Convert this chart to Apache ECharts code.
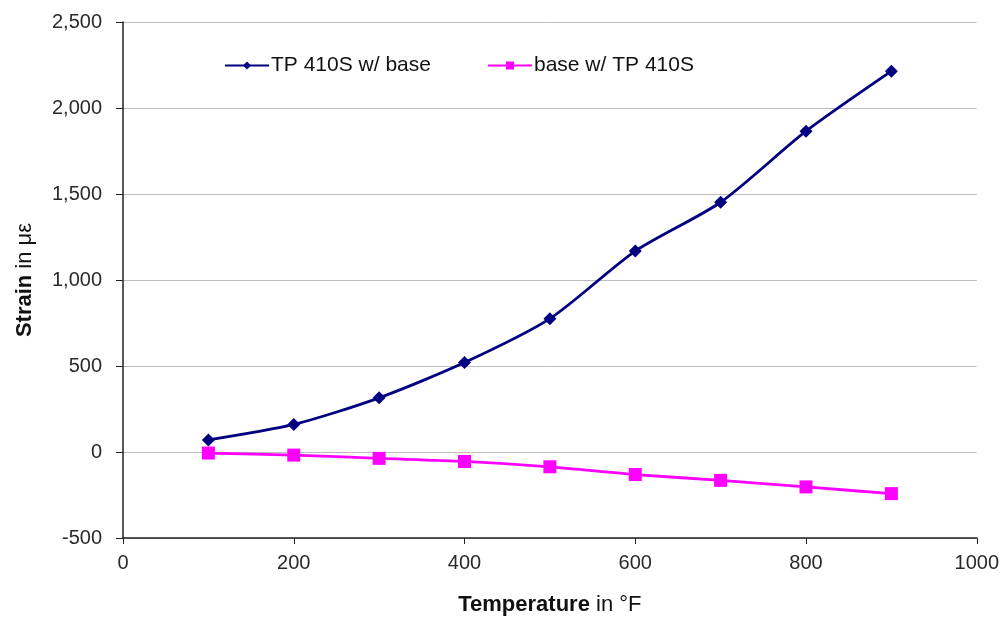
<!DOCTYPE html>
<html>
<head>
<meta charset="utf-8">
<script src="https://cdn.jsdelivr.net/npm/echarts@6/dist/echarts.min.js"></script>
<style>
  html, body { margin: 0; padding: 0; background: #fff; }
  #chart { width: 1002px; height: 625px; }
</style>
</head>
<body>
<div id="chart"></div>
<script>
// Temperature (°F) at each measurement
const temperatures = [100, 200, 300, 400, 500, 600, 700, 800, 900];
// Strain readings (με)
const tpWithBase = [70, 160, 315, 520, 775, 1168, 1452, 1865, 2214];
const baseWithTp = [-6, -18, -37, -55, -86, -131, -165, -203, -242];

const seriesNames = ['TP 410S w/ base', 'base w/ TP 410S'];
const xTicks = { min: 0, max: 1000, interval: 200 };
const yTicks = { min: -500, max: 2500, interval: 500 };

const font = '"Liberation Sans", Arial, sans-serif';
const pair = (xs, ys) => xs.map((x, i) => [x, ys[i]]);

const legendText = { fontSize: 21, color: '#111', fontFamily: font, padding: [0, 0, 0, -3] };
const nameStyle = {
  fontSize: 22, color: '#111', fontFamily: font,
  rich: { b: { fontSize: 22, fontWeight: 'bold', color: '#111', fontFamily: font } }
};

const chart = echarts.init(document.getElementById('chart'));
chart.setOption({
  animation: false,
  backgroundColor: '#fff',
  textStyle: { fontFamily: font },
  grid: { left: 123, right: 25, top: 22, bottom: 87 },
  legend: [
    {
      data: [seriesNames[0]], left: 224, top: 55, padding: 0,
      itemWidth: 44, itemHeight: 10,
      textStyle: legendText
    },
    {
      data: [seriesNames[1]], left: 487, top: 55, padding: 0,
      itemWidth: 44, itemHeight: 10,
      textStyle: legendText
    }
  ],
  xAxis: {
    type: 'value',
    min: xTicks.min, max: xTicks.max, interval: xTicks.interval,
    name: '{b|Temperature} in °F',
    nameLocation: 'middle',
    nameGap: 56,
    nameTextStyle: nameStyle,
    axisLine: { onZero: false, lineStyle: { color: '#222', width: 1.5 } },
    axisTick: { show: true, length: 6, lineStyle: { color: '#222' } },
    axisLabel: { fontSize: 20, color: '#2a2a2a', margin: 15, fontFamily: font, formatter: v => String(v) },
    splitLine: { show: false }
  },
  yAxis: {
    type: 'value',
    min: yTicks.min, max: yTicks.max, interval: yTicks.interval,
    name: '{b|Strain} in με',
    nameLocation: 'middle',
    nameRotate: 90,
    nameGap: 87,
    nameTextStyle: nameStyle,
    axisLine: { show: true, lineStyle: { color: '#222', width: 1.5 } },
    axisTick: { show: true, length: 7, lineStyle: { color: '#222' } },
    axisLabel: {
      fontSize: 20, color: '#2a2a2a', margin: 21, fontFamily: font,
      formatter: v => v.toLocaleString('en-US')
    },
    splitLine: { show: true, lineStyle: { color: '#bdbdbd', width: 1 } }
  },
  series: [
    {
      name: seriesNames[0],
      type: 'line',
      data: pair(temperatures, tpWithBase),
      smooth: 0.25,
      symbol: 'diamond',
      symbolSize: 13,
      lineStyle: { color: '#000080', width: 2.8 },
      itemStyle: { color: '#000080' }
    },
    {
      name: seriesNames[1],
      type: 'line',
      data: pair(temperatures, baseWithTp),
      smooth: 0.25,
      symbol: 'rect',
      symbolSize: 13,
      lineStyle: { color: '#ff00ff', width: 2.8 },
      itemStyle: { color: '#ff00ff' }
    }
  ]
});
</script>
</body>
</html>
